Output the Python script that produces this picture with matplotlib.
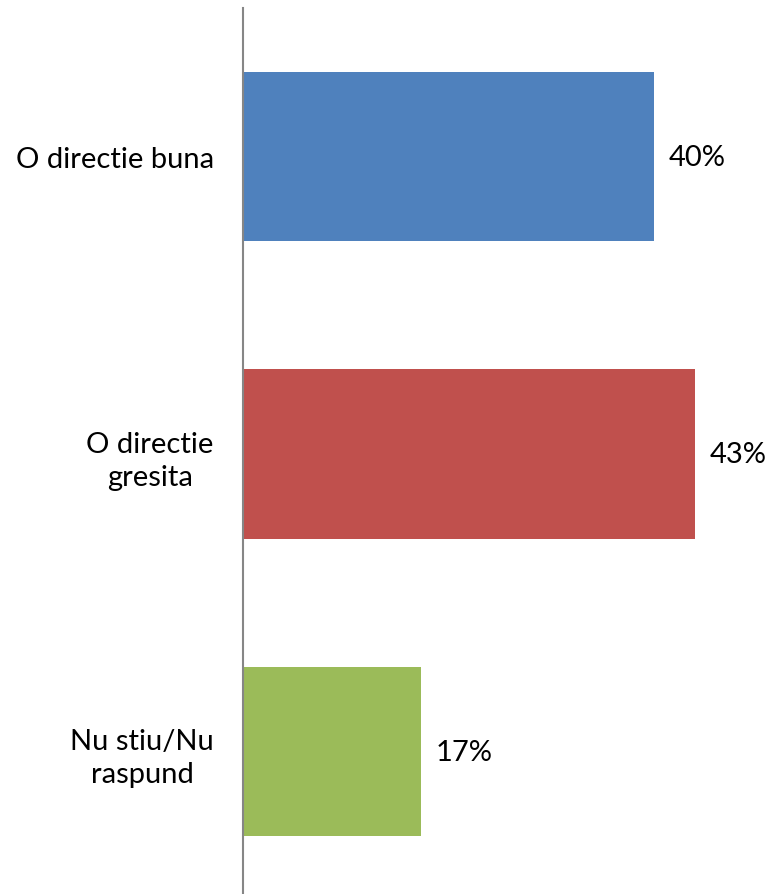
import matplotlib
matplotlib.use("Agg")
from matplotlib import pyplot as plt

categories = ["O directie buna", "O directie\ngresita", "Nu stiu/Nu\nraspund"]
values = [39.5, 43.4, 17.1]
labels = ["40%", "43%", "17%"]
colors = ["#4F81BD", "#C0504D", "#9BBB59"]

plt.rcParams['font.family'] = ['Lato', 'DejaVu Sans']

fig = plt.figure(figsize=(7.69, 8.95), dpi=100)
ax = fig.add_axes([0.316, -0.007, 0.684, 0.997])

y = list(range(len(categories)))
ax.barh(y, values, height=0.57, color=colors)
ax.set_xlim(0, 50.5)
ax.set_ylim(2.5, -0.5)

for yi, v, lab in zip(y, values, labels):
    ax.text(v + 1.4, yi, lab, va="center", ha="left", fontsize=21, color="black")

ax.set_yticks(y)
ax.set_yticklabels(categories, fontsize=21, multialignment="center", linespacing=1.35)
ax.tick_params(axis="y", length=0, pad=21)
ax.set_xticks([])

for s in ["top", "right", "bottom"]:
    ax.spines[s].set_visible(False)
ax.spines["left"].set_color("#868686")
ax.spines["left"].set_linewidth(1.5)

fig.savefig("out.png", dpi=100)
